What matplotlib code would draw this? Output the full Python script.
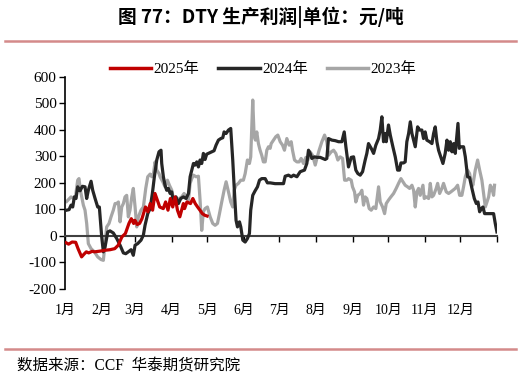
import matplotlib.pyplot as plt
import matplotlib.lines as mlines

plt.rcParams["font.family"] = ["Liberation Serif", "Noto Sans CJK SC"]

# day of year / profit (yuan per ton)
days_2025 = [1, 3, 6, 9, 11, 14, 16, 18, 20, 23, 25, 30, 34, 38, 42, 45, 48, 51,
             54, 56, 58, 59, 61, 63, 65, 68, 70, 72, 74, 76, 79, 80, 83, 85, 87,
             89, 91, 93, 95, 97, 100, 101, 103, 106, 108, 110, 112, 114, 116,
             118, 120]
vals_2025 = [-26, -31, -23, -24, -48, -79, -69, -60, -64, -58, -60, -57, -54,
             -52, -48, -35, -4, 9, 47, 65, 47, 59, 43, 47, 65, 109, 91, 122, 97,
             160, 122, 109, 103, 128, 97, 141, 109, 147, 97, 72, 122, 103, 128,
             122, 141, 122, 109, 97, 84, 78, 75]

days_2024 = [1.4, 3.4, 5.1, 6.5, 7.9, 9.3, 10.7, 12.7, 14.7, 16.9, 18.3, 19.7,
             22.0, 23.4, 25.4, 27.6, 29.0, 31.0, 32.4, 33.8, 36.1, 38.0, 40.8,
             43.7, 46.5, 49.3, 51.3, 53.5, 55.8, 57.7, 59.2, 61.4, 64.2, 66.2,
             67.6, 69.9, 71.9, 73.8, 75.5, 77.5, 79.4, 81.1, 81.7, 83.1, 84.5,
             85.9, 87.3, 88.8, 90.2, 91.6, 93.8, 95.8, 97.8, 100.0, 102.3, 104.3,
             105.7, 107.1, 108.5, 109.9, 111.3, 112.7, 114.1, 115.5, 116.9,
             118.3, 119.7, 122.0, 124.0, 125.9, 127.6, 129.6, 131.6, 133.3,
             134.4, 136.1, 138.1, 140.0, 141.7, 142.9, 144.5, 145.7, 147.4,
             148.5, 150.2, 152.2, 154.1, 155.8, 156.9, 158.6, 160.6, 162.6,
             164.3, 166.2, 169.1, 171.0, 173.3, 177.5, 184.6, 186.0, 188.8,
             191.1, 193.1, 195.9, 198.7, 202.3, 204.3, 205.7, 207.1, 208.5,
             210.8, 212.8, 215.6, 217.6, 219.8, 221.2, 222.6, 225.5, 228.3,
             231.1, 233.9, 235.9, 237.3, 239.5, 241.8, 243.8, 245.7, 247.4,
             249.4, 251.4, 253.6, 255.0, 256.4, 258.7, 260.7, 262.6, 264.9,
             266.3, 267.7, 269.1, 270.5, 271.4, 273.3, 274.8, 277.0, 279.0,
             281.0, 282.6, 283.8, 286.0, 287.4, 288.8, 290.3, 291.7, 293.1,
             294.5, 295.9, 297.9, 299.6, 301.5, 302.9, 304.3, 305.7, 308.0,
             310.0, 311.4, 312.8, 314.2, 315.6, 317.6, 319.3, 321.2, 322.7,
             324.1, 325.5, 326.9, 328.3, 329.7, 331.1, 332.0, 333.1, 334.5,
             336.7, 338.2, 340.1, 341.8, 343.8, 345.8, 347.5, 348.9, 350.3,
             351.7, 353.1, 354.5, 356.5, 359.3, 362.1, 363.5, 364.9]
vals_2024 = [97, 99, 116, 109, 147, 141, 185, 170, 187, 185, 141, 172, 206, 172,
             141, 109, 109, -4, -60, -42, 15, 19, 11, -10, -35, -64, -67, -60,
             -52, -73, -35, -29, -16, 3, 40, 84, 103, 160, 223, 286, 317, 323,
             273, 223, 191, 172, 179, 160, 166, 122, 147, 122, 141, 147, 141,
             160, 223, 248, 273, 267, 279, 260, 286, 273, 311, 288, 308, 313,
             317, 321, 342, 361, 367, 370, 392, 386, 399, 405, 286, 185, 59, 34,
             53, 34, -16, -23, -10, 9, 97, 153, 170, 185, 210, 216, 216, 200,
             200, 197, 197, 225, 229, 223, 229, 223, 242, 248, 273, 323, 311,
             292, 298, 296, 296, 292, 288, 292, 367, 361, 359, 355, 355, 392,
             336, 260, 296, 298, 248, 235, 229, 242, 286, 311, 348, 330, 311,
             342, 367, 399, 449, 355, 386, 355, 418, 380, 336, 298, 248, 248,
             275, 275, 279, 355, 386, 430, 386, 361, 336, 411, 399, 399, 367,
             392, 361, 355, 348, 386, 411, 355, 323, 296, 273, 311, 361, 323,
             355, 317, 348, 311, 380, 424, 330, 336, 336, 298, 223, 220, 179,
             141, 122, 128, 91, 103, 109, 84, 84, 84, 84, 47, 15]

days_2023 = [1.4, 5.1, 7.0, 9.0, 10.7, 11.8, 13.0, 14.1, 15.5, 16.9, 18.3, 19.7,
             22.0, 24.8, 27.6, 30.4, 32.4, 33.8, 35.2, 37.2, 38.9, 40.8, 42.3,
             43.7, 45.1, 46.5, 47.9, 49.3, 50.7, 52.1, 53.5, 54.9, 56.4, 57.7,
             59.2, 60.6, 62.0, 64.2, 66.2, 68.2, 69.9, 71.9, 73.3, 74.7, 76.1,
             77.5, 79.4, 80.3, 82.6, 84.5, 86.5, 88.2, 90.2, 92.1, 94.4, 96.6,
             98.6, 100.6, 102.3, 104.3, 105.7, 107.1, 108.5, 110.7, 112.7,
             114.1, 115.5, 116.9, 118.3, 120.3, 122.6, 124.8, 126.8, 128.8,
             130.5, 132.4, 134.4, 136.1, 138.1, 140.0, 141.7, 142.9, 144.5,
             146.5, 148.5, 150.7, 152.2, 154.1, 155.8, 156.9, 158.6, 159.8,
             160.9, 162.0, 163.4, 164.8, 166.2, 167.6, 169.1, 170.5, 171.9,
             173.3, 174.2, 176.1, 178.1, 179.8, 181.8, 183.8, 185.4, 187.4,
             189.4, 191.1, 192.2, 193.9, 195.9, 197.8, 199.5, 201.5, 203.5,
             205.2, 207.1, 209.1, 211.4, 212.8, 214.7, 217.0, 219.3, 221.2,
             222.6, 224.9, 226.9, 228.8, 230.5, 232.5, 234.5, 236.2, 238.1,
             239.5, 241.8, 242.9, 244.6, 245.7, 247.4, 249.4, 250.8, 252.2,
             253.6, 255.0, 257.0, 258.7, 260.7, 262.6, 264.9, 266.3, 268.3,
             270.0, 271.4, 273.3, 275.3, 277.6, 279.8, 281.8, 283.8, 285.5,
             287.4, 289.4, 291.1, 293.1, 294.5, 295.9, 297.3, 298.7, 300.1,
             302.4, 303.5, 305.2, 307.2, 308.6, 310.0, 311.4, 313.6, 314.8,
             316.5, 318.4, 319.8, 322.1, 324.1, 326.0, 327.7, 329.7, 331.7,
             333.4, 335.3, 336.7, 338.2, 340.1, 341.8, 342.9, 344.6, 346.6,
             348.6, 350.3, 352.2, 353.6, 355.1, 356.5, 357.9, 359.3, 360.7,
             362.1, 362.9]
vals_2023 = [130, 147, 141, 153, 210, 216, 172, 147, 116, 97, 47, -29, -48, -60,
             -79, -89, -92, -29, 34, 47, 72, 97, 122, 122, 128, 53, 109, 122,
             147, 153, 72, 97, 147, 179, 109, 34, 72, 97, 109, 179, 223, 233,
             223, 235, 279, 248, 235, 223, 204, 185, 210, 191, 172, 128, 122,
             141, 147, 160, 147, 135, 198, 216, 229, 223, 225, 135, 21, 91, 103,
             109, 72, 47, 40, 47, 84, 128, 172, 204, 166, 128, 109, 172, 191,
             198, 210, 210, 235, 286, 273, 298, 512, 374, 361, 392, 348, 323,
             304, 279, 279, 323, 336, 330, 348, 361, 374, 380, 355, 342, 323,
             367, 342, 355, 323, 286, 279, 279, 292, 273, 296, 286, 317, 304,
             267, 292, 323, 355, 380, 355, 304, 317, 323, 311, 286, 298, 292,
             210, 210, 216, 210, 185, 166, 128, 153, 160, 172, 116, 147, 141,
             103, 97, 109, 103, 185, 128, 109, 84, 122, 135, 147, 160, 179, 198,
             216, 204, 191, 185, 179, 191, 172, 109, 166, 179, 153, 191, 141,
             147, 141, 198, 147, 153, 179, 198, 160, 179, 198, 166, 160, 166,
             172, 179, 191, 153, 153, 185, 223, 248, 235, 210, 191, 248, 286,
             248, 210, 160, 109, 128, 147, 191, 179, 153, 191]

month_starts = [0, 31, 59, 90, 120, 151, 181, 212, 243, 273, 304, 334, 365]
month_labels = ["1月", "2月", "3月", "4月", "5月", "6月", "7月", "8月", "9月",
                "10月", "11月", "12月"]
y_ticks = [-200, -100, 0, 100, 200, 300, 400, 500, 600]

C_2025 = "#C00000"
C_2024 = "#262626"
C_2023 = "#A6A6A6"
LINE_RED = "#D48A8A"

fig = plt.figure(figsize=(5.21, 3.79), dpi=100)
ax = fig.add_axes([0.1248, 0.2375, 0.8292, 0.5601])

ax.plot(days_2023, vals_2023, color=C_2023, lw=2.3, label="2023年", zorder=2)
ax.plot(days_2024, vals_2024, color=C_2024, lw=2.3, label="2024年", zorder=3)
ax.plot(days_2025, vals_2025, color=C_2025, lw=2.3, label="2025年", zorder=4)

ax.set_xlim(0, 365)
ax.set_ylim(-200, 600)
ax.set_yticks(y_ticks)
ax.set_yticklabels([str(v) for v in y_ticks], fontsize=11)

for side in ["top", "right"]:
    ax.spines[side].set_visible(False)
ax.spines["left"].set_linewidth(1.2)
ax.spines["bottom"].set_position(("data", 0))
ax.spines["bottom"].set_linewidth(1.5)
ax.spines["bottom"].set_color("#404040")
ax.set_xticks(month_starts)
ax.tick_params(axis="x", direction="out", length=4, width=1, labelbottom=False)
ax.tick_params(axis="y", direction="out", length=4, width=1, pad=2)

for d, lab in zip(month_starts[:-1], month_labels):
    ax.text(d, -0.1, lab, transform=ax.get_xaxis_transform(), ha="center",
            va="center", fontsize=10)

handles = [mlines.Line2D([], [], color=C_2025, lw=2.5),
           mlines.Line2D([], [], color=C_2024, lw=2.5),
           mlines.Line2D([], [], color=C_2023, lw=2.5)]
fig.legend(handles, ["2025年", "2024年", "2023年"], loc="center",
           bbox_to_anchor=(0.505, 0.818), ncol=3, frameon=False, fontsize=11,
           handlelength=2.7, handletextpad=0.15, columnspacing=1.25)

fig.text(0.5, 0.955, "图 77：DTY 生产利润|单位：元/吨", ha="center", va="center",
         fontsize=13.5, fontweight="bold",
         family=["Noto Sans CJK SC", "DejaVu Sans"])
fig.add_artist(mlines.Line2D([0.01, 0.99], [0.892, 0.892], color=LINE_RED,
                             lw=1.8, transform=fig.transFigure))
fig.add_artist(mlines.Line2D([0.01, 0.99], [0.079, 0.079], color=LINE_RED,
                             lw=1.8, transform=fig.transFigure))
fig.text(0.033, 0.034, "数据来源：CCF  华泰期货研究院", ha="left", va="center",
         fontsize=11.2)

fig.savefig("out.png", dpi=100)
